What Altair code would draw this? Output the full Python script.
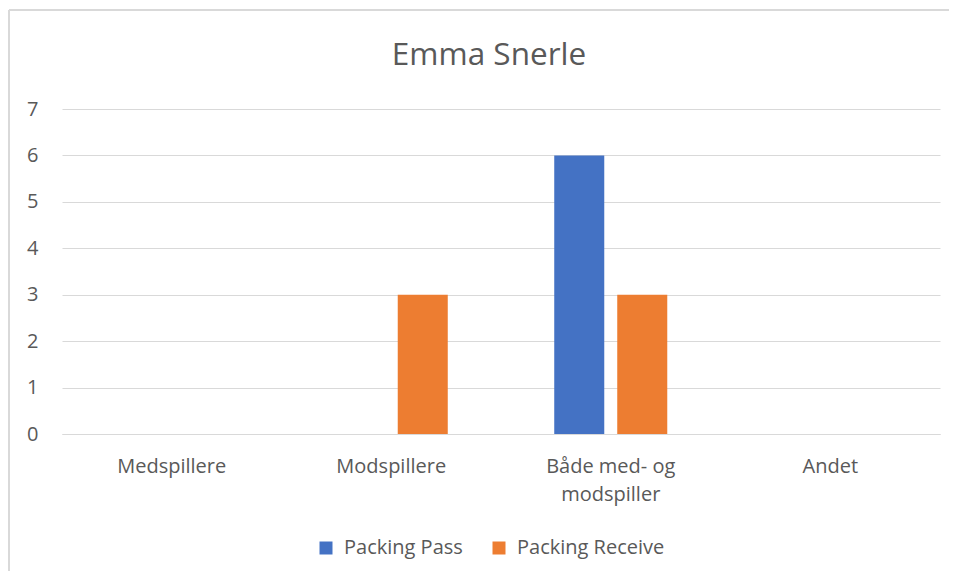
import altair as alt
import pandas as pd

title_text = "Emma Snerle"
categories = ["Medspillere", "Modspillere", "Både med- og modspiller", "Andet"]
series = ["Packing Pass", "Packing Receive"]
packing_pass = [0, 0, 6, 0]
packing_receive = [0, 3, 3, 0]
colors = ["#4472C4", "#ED7D31"]

rows = []
for c, v in zip(categories, packing_pass):
    rows.append({"Kategori": c, "Serie": series[0], "Antal": v})
for c, v in zip(categories, packing_receive):
    rows.append({"Kategori": c, "Serie": series[1], "Antal": v})
df = pd.DataFrame(rows)

FONT = "Open Sans"
TXT = "#595959"
GRID = "#D9D9D9"

bars = alt.Chart(df).mark_bar().encode(
    x=alt.X("Kategori:N", sort=categories, title=None,
            scale=alt.Scale(paddingInner=0, paddingOuter=0),
            axis=alt.Axis(labelAngle=0, labelFont=FONT, labelFontSize=20, labelColor=TXT,
                          labelPadding=22, ticks=False, domain=True, domainColor=GRID,
                          labelLineHeight=28,
                          labelExpr="datum.label == 'Både med- og modspiller' ? ['Både med- og', 'modspiller'] : datum.label")),
    xOffset=alt.XOffset("Serie:N", sort=series,
                        scale=alt.Scale(paddingInner=0.206, paddingOuter=0.845)),
    y=alt.Y("Antal:Q", title=None,
            scale=alt.Scale(domain=[0, 7], nice=False),
            axis=alt.Axis(values=list(range(8)), labelFont=FONT, labelFontSize=20, labelColor=TXT,
                          labelPadding=24, ticks=False, domain=False, gridColor=GRID, gridWidth=1)),
    color=alt.Color("Serie:N", sort=series, title=None,
                    scale=alt.Scale(domain=series, range=colors),
                    legend=alt.Legend(orient="none", legendX=254, legendY=429, direction="horizontal",
                                      symbolType="square", symbolSize=169, symbolStrokeWidth=0,
                                      labelFont=FONT, labelFontSize=20, labelColor=TXT,
                                      labelOffset=8, columnPadding=26)),
)

title_mark = alt.Chart(pd.DataFrame({"t": [title_text]})).mark_text(
    font=FONT, fontSize=31.5, color=TXT, align="center", baseline="alphabetic"
).encode(text="t:N", x=alt.value(427), y=alt.value(-44))

left_border = alt.Chart(df).mark_rule(color=GRID, strokeWidth=1.5).encode(
    x=alt.value(-53), y=alt.value(-99), y2=alt.value(480))
top_border = alt.Chart(df).mark_rule(color=GRID, strokeWidth=1.5).encode(
    y=alt.value(-99), x=alt.value(-53), x2=alt.value(900))

chart = alt.layer(left_border, top_border, title_mark, bars).properties(
    width=878, height=325,
    autosize=alt.AutoSizeParams(type="none"),
    padding={"left": 54, "top": 101, "right": 9, "bottom": 137},
    background="white",
).configure_view(stroke=None)

chart.save("out.html", embed_options={"renderer": "svg", "actions": False})
